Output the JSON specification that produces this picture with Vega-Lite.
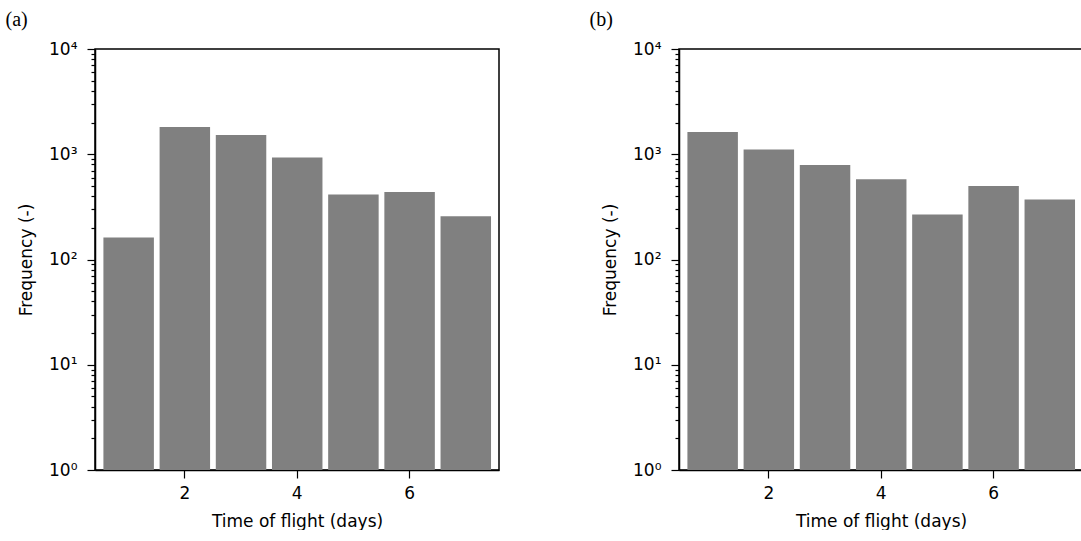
{
  "$schema": "https://vega.github.io/schema/vega-lite/v6.json",
  "padding": {"left": 4, "top": 9, "right": 0, "bottom": 0},
  "datasets": {
    "hist": [
      {"panel": "a", "bin_start": 0.5, "bin_end": 1.5, "frequency": 162},
      {"panel": "a", "bin_start": 1.5, "bin_end": 2.5, "frequency": 1815},
      {"panel": "a", "bin_start": 2.5, "bin_end": 3.5, "frequency": 1524},
      {"panel": "a", "bin_start": 3.5, "bin_end": 4.5, "frequency": 931},
      {"panel": "a", "bin_start": 4.5, "bin_end": 5.5, "frequency": 415},
      {"panel": "a", "bin_start": 5.5, "bin_end": 6.5, "frequency": 439},
      {"panel": "a", "bin_start": 6.5, "bin_end": 7.5, "frequency": 258},
      {"panel": "b", "bin_start": 0.5, "bin_end": 1.5, "frequency": 1627},
      {"panel": "b", "bin_start": 1.5, "bin_end": 2.5, "frequency": 1109},
      {"panel": "b", "bin_start": 2.5, "bin_end": 3.5, "frequency": 792},
      {"panel": "b", "bin_start": 3.5, "bin_end": 4.5, "frequency": 580},
      {"panel": "b", "bin_start": 4.5, "bin_end": 5.5, "frequency": 268},
      {"panel": "b", "bin_start": 5.5, "bin_end": 6.5, "frequency": 498},
      {"panel": "b", "bin_start": 6.5, "bin_end": 7.5, "frequency": 372}
    ]
  },
  "config": {
    "font": "DejaVu Sans",
    "view": {"stroke": "black", "strokeWidth": 1.5},
    "axis": {
      "grid": false,
      "zindex": 1,
      "domainColor": "black",
      "domainWidth": 1.5,
      "tickColor": "black",
      "tickWidth": 1.2,
      "labelColor": "black",
      "titleColor": "black",
      "labelFont": "DejaVu Sans",
      "titleFont": "DejaVu Sans",
      "labelFontSize": 17,
      "titleFontSize": 17,
      "titleFontWeight": "normal"
    },
    "title": {
      "font": "Liberation Serif",
      "fontSize": 20,
      "fontWeight": "normal",
      "anchor": "start",
      "frame": "bounds",
      "color": "black"
    },
    "concat": {"spacing": 88}
  },
  "hconcat": [
    {
      "title": {"text": "(a)", "dx": -12, "offset": 10},
      "width": 404,
      "height": 421,
      "data": {"name": "hist"},
      "transform": [{"filter": "datum.panel == 'a'"}],
      "mark": {"type": "bar", "color": "#808080", "binSpacing": 5.7},
      "encoding": {
        "x": {
          "field": "bin_start",
          "type": "quantitative",
          "bin": "binned",
          "scale": {"domain": [0.41, 7.6], "nice": false, "zero": false},
          "axis": {"title": "Time of flight (days)", "values": [2, 4, 6], "format": "d", "tickSize": 8, "labelPadding": 7, "titlePadding": 12, "labelFlush": false}
        },
        "x2": {"field": "bin_end"},
        "y": {
          "field": "frequency",
          "type": "quantitative",
          "scale": {"type": "log", "domain": [1, 10000], "nice": false},
          "axis": {
            "title": "Frequency (-)",
            "values": [1, 2, 3, 4, 5, 6, 7, 8, 9, 10, 20, 30, 40, 50, 60, 70, 80, 90, 100, 200, 300, 400, 500, 600, 700, 800, 900, 1000, 2000, 3000, 4000, 5000, 6000, 7000, 8000, 9000, 10000],
            "labelExpr": "datum.value == 1 ? '10⁰' : datum.value == 10 ? '10¹' : datum.value == 100 ? '10²' : datum.value == 1000 ? '10³' : datum.value == 10000 ? '10⁴' : ''",
            "labelOverlap": false,
            "labelFlush": false,
            "tickSize": {"condition": {"test": "indexof([1, 10, 100, 1000, 10000], datum.value) >= 0", "value": 8}, "value": 4},
            "labelPadding": 10,
            "titlePadding": 13
          }
        },
        "y2": {"datum": 1}
      }
    },
    {
      "title": {"text": "(b)", "dx": -12, "offset": 10},
      "width": 404,
      "height": 421,
      "data": {"name": "hist"},
      "transform": [{"filter": "datum.panel == 'b'"}],
      "mark": {"type": "bar", "color": "#808080", "binSpacing": 5.7},
      "encoding": {
        "x": {
          "field": "bin_start",
          "type": "quantitative",
          "bin": "binned",
          "scale": {"domain": [0.41, 7.6], "nice": false, "zero": false},
          "axis": {"title": "Time of flight (days)", "values": [2, 4, 6], "format": "d", "tickSize": 8, "labelPadding": 7, "titlePadding": 12, "labelFlush": false}
        },
        "x2": {"field": "bin_end"},
        "y": {
          "field": "frequency",
          "type": "quantitative",
          "scale": {"type": "log", "domain": [1, 10000], "nice": false},
          "axis": {
            "title": "Frequency (-)",
            "values": [1, 2, 3, 4, 5, 6, 7, 8, 9, 10, 20, 30, 40, 50, 60, 70, 80, 90, 100, 200, 300, 400, 500, 600, 700, 800, 900, 1000, 2000, 3000, 4000, 5000, 6000, 7000, 8000, 9000, 10000],
            "labelExpr": "datum.value == 1 ? '10⁰' : datum.value == 10 ? '10¹' : datum.value == 100 ? '10²' : datum.value == 1000 ? '10³' : datum.value == 10000 ? '10⁴' : ''",
            "labelOverlap": false,
            "labelFlush": false,
            "tickSize": {"condition": {"test": "indexof([1, 10, 100, 1000, 10000], datum.value) >= 0", "value": 8}, "value": 4},
            "labelPadding": 10,
            "titlePadding": 13
          }
        },
        "y2": {"datum": 1}
      }
    }
  ]
}
